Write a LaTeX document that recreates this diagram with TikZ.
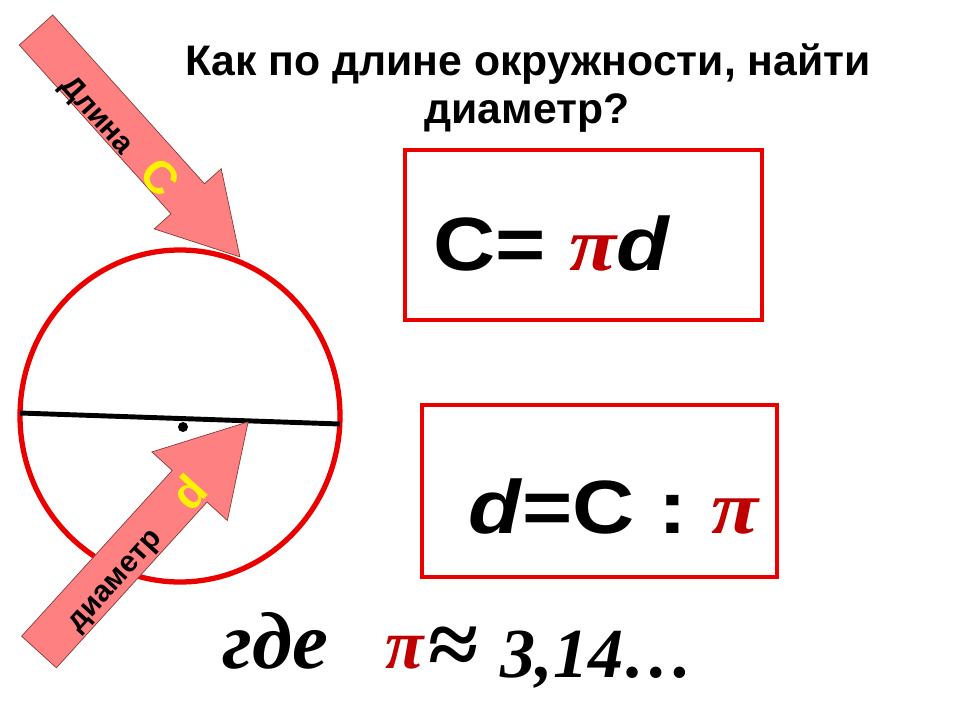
\documentclass[tikz,border=0pt]{standalone}
\usepackage{fontspec}
\setmainfont{Liberation Serif}
\setsansfont{Liberation Sans}
\usetikzlibrary{positioning}
\definecolor{boxred}{RGB}{235,0,0}
\definecolor{arrowpink}{RGB}{255,128,128}
\definecolor{arrowedge}{RGB}{130,60,60}
\definecolor{pired}{RGB}{192,0,0}
\newcommand{\redpi}{{\rmfamily\bfseries\itshape\color{pired}π}}

\begin{document}
\begin{tikzpicture}[x=0.02cm,y=-0.02cm,
  redbox/.style={draw=boxred,line width=2.8pt},
  pinkarrow/.style={fill=arrowpink,draw=arrowedge,line width=0.4pt},
  title/.style={font=\sffamily\bfseries\fontsize{24.3}{28}\selectfont,anchor=base,inner sep=0pt},
  formula/.style={font=\sffamily\bfseries\fontsize{43}{50}\selectfont,anchor=base west,inner sep=0pt,xscale=1.14},
  armtext/.style={font=\sffamily\bfseries\fontsize{17}{20}\selectfont,inner sep=0pt},
  armletter/.style={font=\sffamily\bfseries\fontsize{26}{30}\selectfont,text=yellow,inner sep=0pt},
  where/.style={font=\rmfamily\bfseries\itshape,anchor=base west,inner sep=0pt}]
 \useasboundingbox (0,0) rectangle (960,720);
 % title
 \node[title] (title) at (528,75) {Как по длине окружности, найти};
 \node[title] (subtitle) at (527,123) {диаметр?};
 % the circle with its diameter
 \draw[boxred,line width=3pt] (180,416) ellipse [x radius=160, y radius=166];
 \draw[line width=2.8pt] (20,413) -- (340,424);
 \fill (183,427) circle [radius=5];
 % arrow to the circle line
 \begin{scope}[shift={(36,30)},rotate=-48.05]
  \filldraw[pinkarrow] (0,-22.5) -- (227,-22.5) -- (227,-45) -- (305,0)
    -- (227,45) -- (227,22.5) -- (0,22.5) -- cycle;
  \node[armtext,rotate=-48.05] (len) at (104,13) {Длина};
  \node[armletter,rotate=-48.05] (lenC) at (193,6) {C};
 \end{scope}
 % arrow to the diameter
 \begin{scope}[shift={(39,652)},rotate=47.74]
  \filldraw[pinkarrow] (0,-23.5) -- (224,-23.5) -- (224,-51) -- (311,0)
    -- (224,51) -- (224,23.5) -- (0,23.5) -- cycle;
  \node[armtext,rotate=47.74] (diam) at (104,11) {диаметр};
  \node[armletter,rotate=47.74] (diamD) at (219,4) {d};
 \end{scope}
 % formulas
 \draw[redbox] (405,150) rectangle (762,320);
 \node[formula] (cpd) at (433,270) {C= \redpi\textit{d}};
 \draw[redbox] (422,405) rectangle (777,577);
 \node[formula] (dcp) at (468,533) {\textit{d}=C : \redpi};
 % value of pi
 \node[where,font=\rmfamily\bfseries\itshape\fontsize{46}{50}\selectfont] (gde) at (222,668) {где};
 \node[where,font=\rmfamily\bfseries\itshape\fontsize{40}{46}\selectfont] (pival) at (385,668) {\redpi};
 \node[where,font=\rmfamily\bfseries\fontsize{52}{56}\selectfont] (approx) at (428,675) {≈};
 \node[where,font=\rmfamily\bfseries\itshape\fontsize{40}{46}\selectfont] (num) at (500,677) {3,14…};
\end{tikzpicture}
\end{document}
